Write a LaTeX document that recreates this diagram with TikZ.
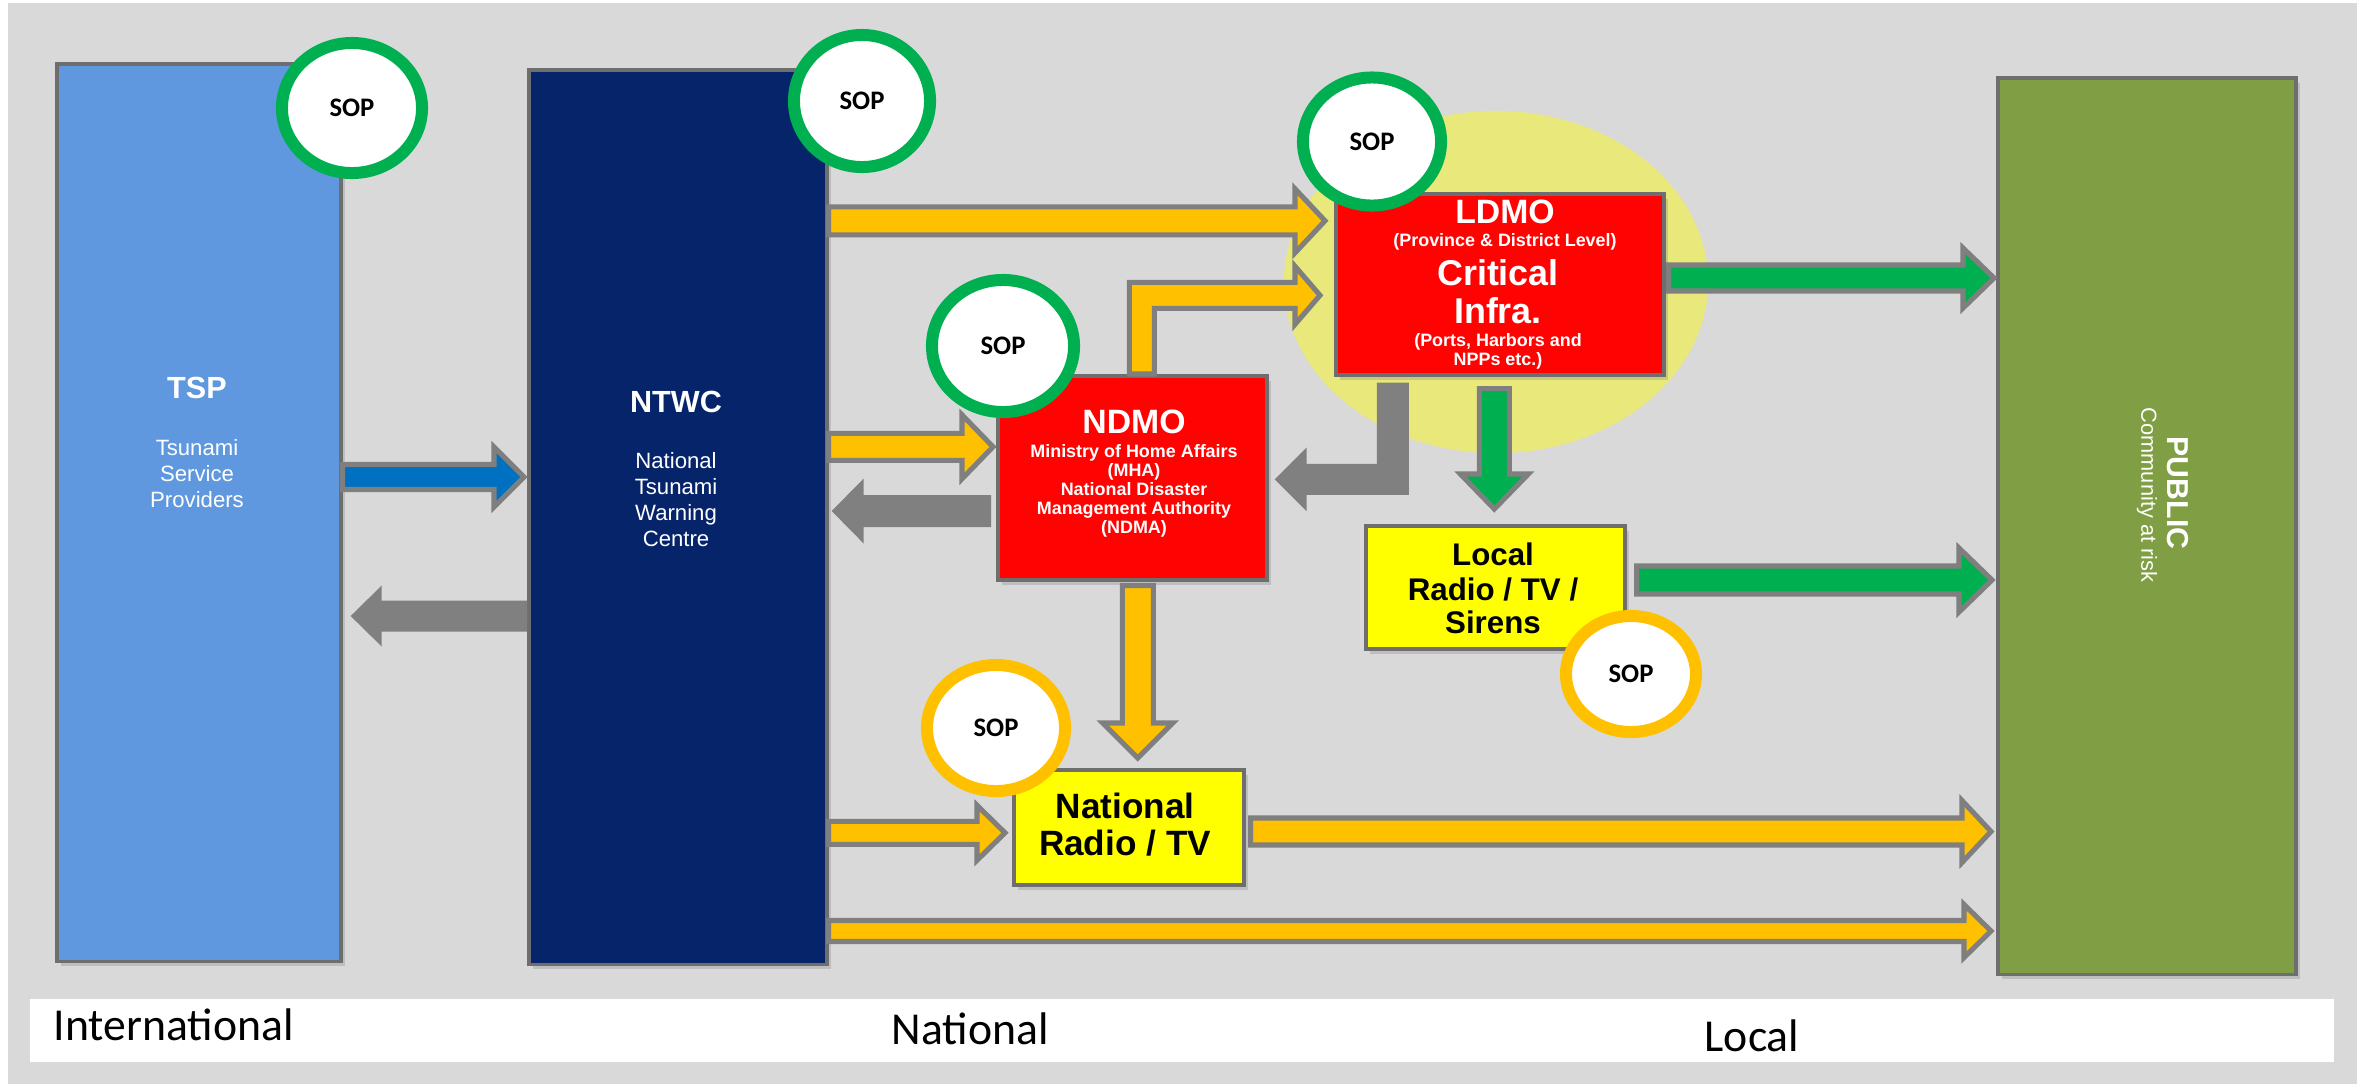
\documentclass[tikz,border=0pt]{standalone}
\usepackage{fontspec}
\setmainfont{Liberation Sans}
\newfontfamily\calfont{Carlito}
\usetikzlibrary{calc,shapes.geometric,shadows}

\definecolor{bggray}{HTML}{D9D9D9}
\definecolor{tspblue}{HTML}{5F98DE}
\definecolor{ntwcnavy}{HTML}{06246A}
\definecolor{pubgreen}{HTML}{809E43}
\definecolor{boxred}{HTML}{FF0303}
\definecolor{boxyellow}{HTML}{FFFF00}
\definecolor{ellyellow}{HTML}{E9E87A}
\definecolor{arryellow}{HTML}{FFC000}
\definecolor{arrgreen}{HTML}{00B050}
\definecolor{arrblue}{HTML}{0070C0}
\definecolor{arrgray}{HTML}{808080}
\definecolor{outgray}{HTML}{7F7F7F}
\definecolor{boxline}{HTML}{6E6E6E}

\newcommand\fs[2]{\fontsize{#1}{#2}\selectfont}

% horizontal block arrow: style, start point (x used), tip point, shaft half, head half, head length (signed)
\newcommand\harrow[6]{%
  \path[#1] let \p1=(#2), \p2=(#3) in
   ($(\x1,\y2)+(0,#4)$) -- ($(\x2,\y2)+({-1*(#6)},#4)$) -- ($(\x2,\y2)+({-1*(#6)},#5)$)
   -- (\x2,\y2) -- ($(\x2,\y2)+({-1*(#6)},{-1*(#5)})$) -- ($(\x2,\y2)+({-1*(#6)},{-1*(#4)})$)
   -- ($(\x1,\y2)+(0,{-1*(#4)})$) -- cycle;}
% vertical block arrow (pointing down): style, start point (y used), tip point, shaft half, head half, head length
\newcommand\varrow[6]{%
  \path[#1] let \p1=(#2), \p2=(#3) in
   ($(\x2,\y1)+(#4,0)$) -- ($(\x2,\y2)+(#4,{-1*(#6)})$) -- ($(\x2,\y2)+(#5,{-1*(#6)})$)
   -- (\x2,\y2) -- ($(\x2,\y2)+({-1*(#5)},{-1*(#6)})$) -- ($(\x2,\y2)+({-1*(#4)},{-1*(#6)})$)
   -- ($(\x2,\y1)+({-1*(#4)},0)$) -- cycle;}

\tikzset{
  box/.style={draw=boxline, line width=1pt, inner sep=0pt, anchor=north west,
    drop shadow={opacity=0.3, shadow xshift=1.2pt, shadow yshift=-1.4pt}},
  sop/.style={ellipse, fill=white, line width=0.12cm, inner sep=0pt,
    font=\calfont\bfseries\fs{7.6}{9}, text=black},
  wtxt/.style={anchor=base, inner sep=0pt, text=white},
  btxt/.style={anchor=base, inner sep=0pt, text=black},
  yarr/.style={fill=arryellow, draw=outgray, line width=1.45pt, line join=miter},
  grarr/.style={fill=arrgreen, draw=outgray, line width=1.45pt, line join=miter},
  barr/.style={fill=arrblue, draw=outgray, line width=1.45pt, line join=miter},
  garr/.style={fill=arrgray},
  lvl/.style={anchor=base west, inner sep=0pt, text=black, font=\calfont\fs{13}{15}}
}

\begin{document}
\begin{tikzpicture}[x=0.01cm, y=-0.01cm]
\useasboundingbox (0,0) rectangle (2369,1084);
\fill[white] (0,0) rectangle (2369,1084);
\fill[bggray] (8,3) rectangle (2357,1084);
\fill[white] (30,999) rectangle (2334,1062);
\fill[ellyellow] (1496,282) ellipse [x radius=2.12cm, y radius=1.71cm];

% boxes
\node[box, fill=tspblue, minimum width=2.84cm, minimum height=8.97cm] (tsp) at (55,62) {};
\node[box, fill=ntwcnavy, minimum width=2.98cm, minimum height=8.94cm] (ntwc) at (527,68) {};
\node[box, fill=pubgreen, minimum width=2.98cm, minimum height=8.96cm] (public) at (1996,76) {};
\node[box, fill=boxred, minimum width=3.28cm, minimum height=1.81cm] (ldmo) at (1334,192) {};
\node[box, fill=boxred, minimum width=2.69cm, minimum height=2.04cm] (ndmo) at (996,374) {};
\node[box, fill=boxyellow, minimum width=2.59cm, minimum height=1.23cm] (local) at (1364,524) {};
\node[box, fill=boxyellow, minimum width=2.30cm, minimum height=1.15cm] (natradio) at (1012,768) {};

% arrows
\harrow{barr}{tsp.east}{$(ntwc.west)+(-3,-40)$}{12.5}{30}{30}
\harrow{garr}{ntwc.west}{$(tsp.east)+(8,103.5)$}{15.5}{30.5}{-31}
\harrow{yarr}{ntwc.east}{$(ldmo.west)+(-9,-63.5)$}{14}{32}{30}
\harrow{yarr}{ntwc.east}{$(ndmo.west)+(-3,-31)$}{13.5}{32}{31}
\harrow{garr}{$(ndmo.west)+(-5,0)$}{$(ntwc.east)+(3,-6)$}{16}{32.5}{-32}
\harrow{grarr}{$(ldmo.east)+(3,0)$}{$(public.west)+(-2,-248)$}{13}{30}{31}
\harrow{grarr}{$(local.east)+(10,0)$}{$(public.west)+(-4,54)$}{14}{32}{33}
\harrow{yarr}{ntwc.east}{$(natradio.west)+(-7,5.5)$}{11.5}{27.5}{28}
\harrow{yarr}{$(natradio.east)+(5,0)$}{$(public.west)+(-5,305.5)$}{13.5}{31}{29}
\harrow{yarr}{ntwc.east}{$(public.west)+(-5,405)$}{10.5}{26.5}{27}
\varrow{yarr}{$(ndmo.south)+(0,4)$}{$(natradio.north)+(9,-10)$}{15.5}{35}{35}
\varrow{grarr}{$(ldmo.south)+(0,12)$}{$(local.north)+(-1,-15)$}{15}{34}{35}
% elbow NDMO -> LDMO
\path[yarr] let \p1=($(ndmo.north)+(9.5,0)$), \p2=($(ldmo.west)+(-14,11)$) in
  ($(\x1,\y1)+(-12.5,0)$) -- ($(\x1,\y2)+(-12.5,-13)$) -- ($(\x2,\y2)+(-25,-13)$)
  -- ($(\x2,\y2)+(-25,-29)$) -- (\x2,\y2) -- ($(\x2,\y2)+(-25,29)$) -- ($(\x2,\y2)+(-25,13)$)
  -- ($(\x1,\y2)+(12.5,13)$) -- ($(\x1,\y1)+(12.5,0)$) -- cycle;
% elbow LDMO -> NDMO
\path[garr] let \p1=($(ldmo.south)+(-107,6)$), \p2=($(ndmo.east)+(6,1.5)$) in
  ($(\x1,\y1)+(-16,0)$) -- ($(\x1,\y2)+(-16,-15.5)$) -- ($(\x2,\y2)+(32,-15.5)$)
  -- ($(\x2,\y2)+(32,-32)$) -- (\x2,\y2) -- ($(\x2,\y2)+(32,32)$) -- ($(\x2,\y2)+(32,15.5)$)
  -- ($(\x1,\y2)+(16,15.5)$) -- ($(\x1,\y1)+(16,0)$) -- cycle;

% texts
\node[wtxt, font=\bfseries\fs{8.7}{10}] (tsp-t) at (197,398) {TSP};
\node[wtxt, font=\fs{6.3}{7}] (tsp-l1) at (197,455) {Tsunami};
\node[wtxt, font=\fs{6.3}{7}] (tsp-l2) at (197,481) {Service};
\node[wtxt, font=\fs{6.3}{7}] (tsp-l3) at (197,507) {Providers};
\node[wtxt, font=\bfseries\fs{8.7}{10}] (ntwc-t) at (676,412) {NTWC};
\node[wtxt, font=\fs{6.3}{7}] (ntwc-l1) at (676,468) {National};
\node[wtxt, font=\fs{6.3}{7}] (ntwc-l2) at (676,494) {Tsunami};
\node[wtxt, font=\fs{6.3}{7}] (ntwc-l3) at (676,520) {Warning};
\node[wtxt, font=\fs{6.3}{7}] (ntwc-l4) at (676,546) {Centre};

\node[wtxt, font=\bfseries\fs{9.6}{11}] (ldmo-t) at (1505,223) {LDMO};
\node[wtxt, font=\bfseries\fs{5.1}{6}] (ldmo-l1) at (1505,246) {(Province \& District Level)};
\node[wtxt, font=\bfseries\fs{10.2}{12}] (ldmo-l2) at (1498,285) {Critical};
\node[wtxt, font=\bfseries\fs{10.2}{12}] (ldmo-l3) at (1498,323) {Infra.};
\node[wtxt, font=\bfseries\fs{5.1}{6}] (ldmo-l4) at (1498,346) {(Ports, Harbors and};
\node[wtxt, font=\bfseries\fs{5.1}{6}] (ldmo-l5) at (1498,365) {NPPs etc.)};

\node[wtxt, font=\bfseries\fs{9.6}{11}] (ndmo-t) at (1134,433) {NDMO};
\node[wtxt, font=\bfseries\fs{5.1}{6}] (ndmo-l1) at (1134,457) {Ministry of Home Affairs};
\node[wtxt, font=\bfseries\fs{5.1}{6}] (ndmo-l2) at (1134,476) {(MHA)};
\node[wtxt, font=\bfseries\fs{5.1}{6}] (ndmo-l3) at (1134,495) {National Disaster};
\node[wtxt, font=\bfseries\fs{5.1}{6}] (ndmo-l4) at (1134,514) {Management Authority};
\node[wtxt, font=\bfseries\fs{5.1}{6}] (ndmo-l5) at (1134,533) {(NDMA)};

\node[btxt, font=\bfseries\fs{8.9}{10}] (local-l1) at (1493,565) {Local};
\node[btxt, font=\bfseries\fs{8.9}{10}] (local-l2) at (1493,600) {Radio / TV /};
\node[btxt, font=\bfseries\fs{8.9}{10}] (local-l3) at (1493,633) {Sirens};
\node[btxt, font=\bfseries\fs{10}{12}] (natradio-l1) at (1125,818) {National};
\node[btxt, font=\bfseries\fs{10}{12}] (natradio-l2) at (1125,855) {Radio / TV};

\node[inner sep=0pt, text=white, rotate=-90, font=\bfseries\fs{8.6}{10}] (public-t) at (2178,493) {PUBLIC};
\node[inner sep=0pt, text=white, rotate=-90, font=\fs{6.2}{7}] (public-s) at (2147,495) {Community at risk};

% SOP circles
\node[sop, draw=arrgreen, minimum width=1.40cm, minimum height=1.30cm] (sop-tsp) at (352,108) {SOP};
\node[sop, draw=arrgreen, minimum width=1.36cm, minimum height=1.32cm] (sop-ntwc) at (862,101) {SOP};
\node[sop, draw=arrgreen, minimum width=1.38cm, minimum height=1.28cm] (sop-ldmo) at (1372,141.5) {SOP};
\node[sop, draw=arrgreen, minimum width=1.42cm, minimum height=1.32cm] (sop-ndmo) at (1003,346) {SOP};
\node[sop, draw=arryellow, minimum width=1.38cm, minimum height=1.26cm] (sop-nat) at (996,728) {SOP};
\node[sop, draw=arryellow, minimum width=1.30cm, minimum height=1.16cm] (sop-local) at (1631,674) {SOP};

% level labels
\node[lvl] (lvl-int) at (53,1040) {International};
\node[lvl] (lvl-nat) at (891,1044) {National};
\node[lvl] (lvl-loc) at (1704,1051) {Local};
\end{tikzpicture}
\end{document}
